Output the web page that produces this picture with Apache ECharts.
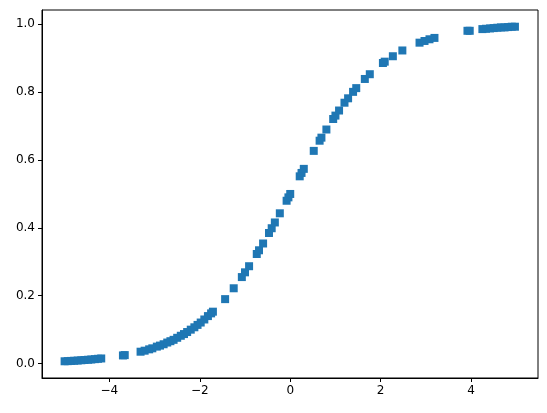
<!DOCTYPE html>
<html>
<head>
<meta charset="utf-8">
<script src="https://cdn.jsdelivr.net/npm/echarts@6/dist/echarts.min.js"></script>
<style>html,body{margin:0;padding:0;background:#fff}#c{width:547px;height:413px}</style>
</head>
<body>
<div id="c"></div>
<script>
const xValues = [
  -4.99, -4.92, -4.85, -4.78, -4.70, -4.62, -4.55, -4.47, -4.40, -4.32, -4.25, -4.18,
  -3.70, -3.66,
  -3.31, -3.22, -3.12, -3.05, -2.95, -2.88, -2.80, -2.72, -2.65, -2.58, -2.50, -2.42,
  -2.35, -2.28, -2.20, -2.12, -2.05, -1.98, -1.90, -1.82, -1.75,
  -1.71, -1.44, -1.25, -1.07, -1.00, -0.91, -0.74, -0.69, -0.60, -0.47, -0.41, -0.34,
  -0.23, -0.08, -0.04, 0.00, 0.21, 0.25, 0.30, 0.52, 0.65, 0.69, 0.80, 0.95, 1.00,
  1.08, 1.20, 1.28, 1.39, 1.46, 1.65, 1.76, 2.05, 2.09, 2.27, 2.48, 2.86, 2.97, 3.08, 3.19,
  3.92, 3.97, 4.25, 4.33, 4.42, 4.50, 4.58, 4.66, 4.74, 4.82, 4.90, 4.97
];
const yValues = [
  0.0068, 0.0072, 0.0078, 0.0083, 0.0090, 0.0098, 0.0105, 0.0113, 0.0121, 0.0131, 0.0141, 0.0151,
  0.024, 0.025,
  0.035, 0.038, 0.042, 0.045, 0.050, 0.053, 0.057, 0.062, 0.066, 0.070, 0.076, 0.082,
  0.087, 0.093, 0.100, 0.107, 0.114, 0.121, 0.130, 0.140, 0.148,
  0.153, 0.190, 0.222, 0.255, 0.269, 0.287, 0.323, 0.334, 0.354, 0.385, 0.399, 0.416,
  0.443, 0.480, 0.490, 0.500, 0.552, 0.562, 0.574, 0.627, 0.657, 0.666, 0.690, 0.721, 0.731,
  0.746, 0.769, 0.782, 0.801, 0.812, 0.839, 0.853, 0.886, 0.890, 0.906, 0.923, 0.946, 0.951, 0.956, 0.960,
  0.981, 0.981, 0.986, 0.987, 0.988, 0.989, 0.990, 0.991, 0.991, 0.992, 0.993, 0.993
];
const xTicks = [-4, -2, 0, 2, 4];
const yTicks = [0.0, 0.2, 0.4, 0.6, 0.8, 1.0];

const points = xValues.map((x, i) => [x, yValues[i]]);
const fmtMinus = v => String(v).replace('-', '\u2212');
const chart = echarts.init(document.getElementById('c'), null, {renderer: 'canvas'});
const labelStyle = {color: '#000', fontSize: 12, fontFamily: 'DejaVu Sans'};
chart.setOption({
  animation: false,
  backgroundColor: '#fff',
  grid: {left: 42, right: 9, top: 10, bottom: 35, show: true, borderColor: '#000', borderWidth: 1, backgroundColor: 'transparent'},
  xAxis: {
    type: 'value', min: -5.49, max: 5.48,
    axisLine: {show: true, onZero: false, lineStyle: {color: '#000', width: 1}},
    axisTick: {show: true, inside: false, length: 4, lineStyle: {color: '#000'}, customValues: xTicks},
    axisLabel: Object.assign({margin: 7, customValues: xTicks, formatter: v => fmtMinus(Math.round(v))}, labelStyle),
    splitLine: {show: false}
  },
  yAxis: {
    type: 'value', min: -0.0425, max: 1.0423,
    axisLine: {show: true, onZero: false, lineStyle: {color: '#000', width: 1}},
    axisTick: {show: true, inside: false, length: 4, lineStyle: {color: '#000'}, customValues: yTicks},
    axisLabel: Object.assign({margin: 7, customValues: yTicks, formatter: v => v.toFixed(1)}, labelStyle),
    splitLine: {show: false}
  },
  series: [{
    type: 'scatter',
    data: points,
    symbol: 'rect',
    symbolSize: 8,
    itemStyle: {color: '#1f77b4', opacity: 1}
  }]
});
</script>
</body>
</html>
